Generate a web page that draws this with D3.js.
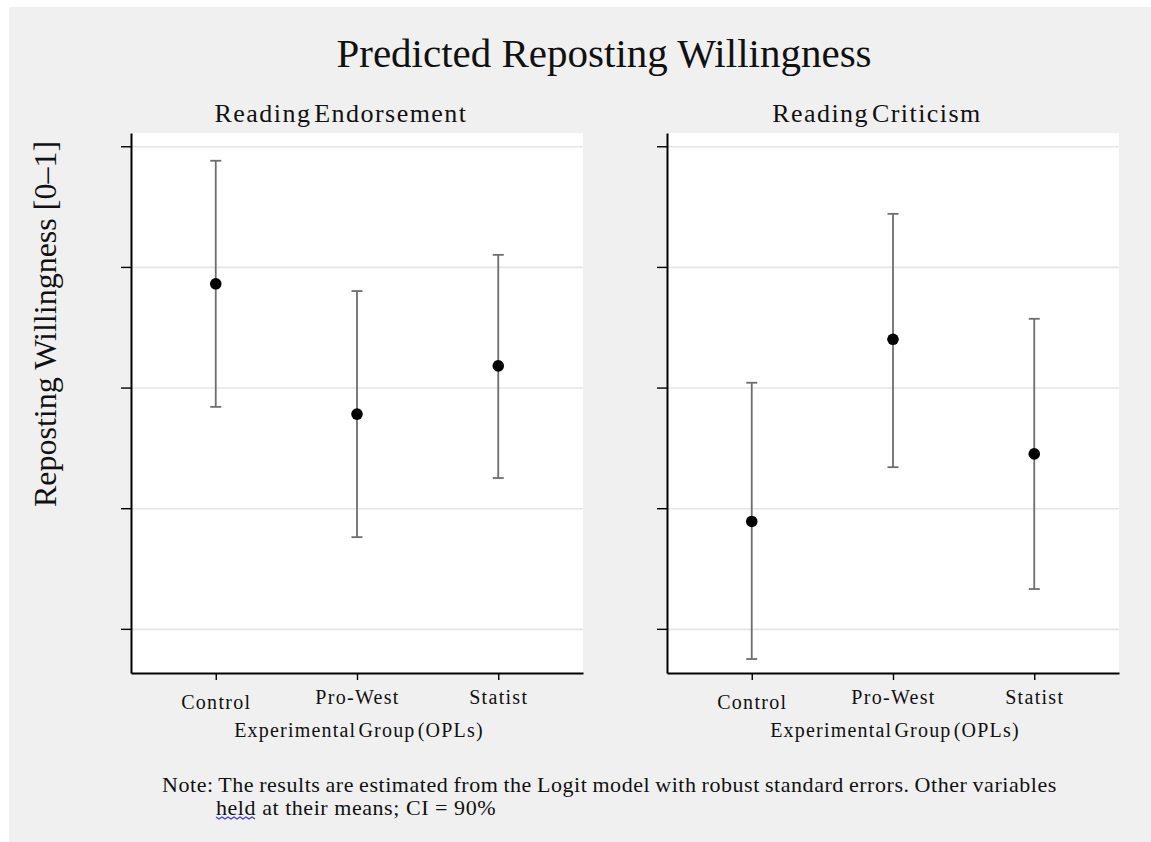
<!DOCTYPE html>
<html>
<head>
<meta charset="utf-8">
<script src="https://cdn.jsdelivr.net/npm/d3@7"></script>
<style>
  html, body { margin: 0; padding: 0; background: #ffffff; }
  svg { display: block; }
  text { font-family: "Liberation Serif", "Times New Roman", serif; fill: #111; }
</style>
</head>
<body>
<div id="chart"></div>
<script>
// Experimental groups shown on each panel's x axis
const groups = ["Control", "Pro-West", "Statist"];
const panelTitles = ["Reading Endorsement", "Reading Criticism"];

// Predicted probabilities with 90% confidence bounds
const endorseEst = [0.386, 0.278, 0.318];
const endorseLo  = [0.284, 0.176, 0.225];
const endorseHi  = [0.488, 0.380, 0.410];

const criticEst  = [0.189, 0.340, 0.245];
const criticLo   = [0.075, 0.234, 0.133];
const criticHi   = [0.304, 0.444, 0.357];

// Unlabelled y-axis ticks
const yTicks = [0.1, 0.2, 0.3, 0.4, 0.5];

const panelData = [
  groups.map((g, i) => ({ group: g, est: endorseEst[i], lo: endorseLo[i], hi: endorseHi[i] })),
  groups.map((g, i) => ({ group: g, est: criticEst[i], lo: criticLo[i], hi: criticHi[i] }))
];

const W = 1151, H = 842;
const svg = d3.select("#chart").append("svg").attr("width", W).attr("height", H);

// Grey graph region
svg.append("rect").attr("x", 9).attr("y", 7).attr("width", W - 9).attr("height", H - 7).attr("fill", "#f0f0f0");

// Overall title
svg.append("text")
  .attr("x", 604).attr("y", 67)
  .attr("text-anchor", "middle")
  .style("font-size", "41px")
  .text("Predicted Reposting Willingness");

// Shared y-axis title
svg.append("text")
  .attr("transform", "translate(56,324) rotate(-90)")
  .attr("text-anchor", "middle")
  .style("font-size", "32px")
  .text("Reposting Willingness [0\u20131]");

const plotTop = 133, plotBottom = 673, plotW = 452;
const panelLeft = [131, 667];

const y = d3.scaleLinear().domain([0.0634, 0.511]).range([plotBottom, plotTop]);

panelData.forEach((rows, p) => {
  const left = panelLeft[p];
  const x = d3.scalePoint().domain(groups).range([left, left + plotW]).padding(0.6);
  const g = svg.append("g");

  // White plot area
  g.append("rect")
    .attr("x", left).attr("y", plotTop)
    .attr("width", plotW).attr("height", plotBottom - plotTop)
    .attr("fill", "#ffffff");

  // Horizontal grid lines
  g.append("g")
    .attr("transform", `translate(${left},0)`)
    .call(d3.axisLeft(y).tickValues(yTicks).tickSize(-plotW).tickFormat(""))
    .call(a => a.select(".domain").remove())
    .call(a => a.selectAll("line").attr("stroke", "#e6e6e6").attr("stroke-width", 1.6));

  // Y axis: ticks without labels
  g.append("g")
    .attr("transform", `translate(${left},0)`)
    .call(d3.axisLeft(y).tickValues(yTicks).tickSize(10).tickSizeOuter(0).tickFormat(""))
    .call(a => a.select(".domain").attr("stroke", "#000").attr("stroke-width", 2))
    .call(a => a.selectAll(".tick line").attr("stroke", "#000").attr("stroke-width", 1.4));

  // X axis
  g.append("g")
    .attr("transform", `translate(0,${plotBottom})`)
    .call(d3.axisBottom(x).tickSize(7).tickSizeOuter(0).tickPadding(8))
    .call(a => a.select(".domain").attr("stroke", "#000").attr("stroke-width", 2))
    .call(a => a.selectAll(".tick line").attr("stroke", "#000").attr("stroke-width", 1.4))
    .call(a => a.selectAll(".tick text")
      .style("font-size", "20px")
      .style("letter-spacing", "1.3px")
      .attr("fill", "#111")
      .attr("dy", d => d === "Control" ? "1.05em" : "0.82em"));

  // Panel title
  g.append("text")
    .attr("x", left + plotW / 2 - 16).attr("y", 122)
    .attr("text-anchor", "middle")
    .style("font-size", "26px")
    .style("letter-spacing", "1.45px")
    .style("word-spacing", "-5px")
    .text(panelTitles[p]);

  // X axis title
  g.append("text")
    .attr("x", left + plotW / 2 + 2).attr("y", 737)
    .attr("text-anchor", "middle")
    .style("font-size", "20px")
    .style("letter-spacing", "1.2px")
    .style("word-spacing", "-4px")
    .text("Experimental Group (OPLs)");

  // Confidence intervals
  const capW = 11;
  const bars = g.append("g").attr("stroke", "#6e6e6e").attr("stroke-width", 1.8);
  bars.selectAll(".ci").data(rows).join("line")
    .attr("x1", d => x(d.group)).attr("x2", d => x(d.group))
    .attr("y1", d => y(d.lo)).attr("y2", d => y(d.hi));
  bars.selectAll(".capHi").data(rows).join("line")
    .attr("x1", d => x(d.group) - capW / 2).attr("x2", d => x(d.group) + capW / 2)
    .attr("y1", d => y(d.hi)).attr("y2", d => y(d.hi));
  bars.selectAll(".capLo").data(rows).join("line")
    .attr("x1", d => x(d.group) - capW / 2).attr("x2", d => x(d.group) + capW / 2)
    .attr("y1", d => y(d.lo)).attr("y2", d => y(d.lo));

  // Point estimates
  g.selectAll("circle").data(rows).join("circle")
    .attr("cx", d => x(d.group)).attr("cy", d => y(d.est))
    .attr("r", 5.8).attr("fill", "#000");
});

// Footnote
const note = svg.append("g").style("font-size", "22px").style("letter-spacing", "0.55px");
note.append("text").attr("x", 162).attr("y", 792)
  .style("word-spacing", "-1px")
  .text("Note: The results are estimated  from the Logit model with robust standard errors. Other variables");
const line2 = note.append("text").attr("x", 216).attr("y", 815)
  .text("held at their means; CI = 90%");

// Wavy spell-check underline beneath the first word of the second line
const heldWidth = line2.node().getSubStringLength(0, 4);
const wave = d3.range(0, Math.floor(heldWidth / 3) + 1).map(i => [216 + i * 3, 817 + (i % 2 ? 2 : 0)]);
svg.append("path")
  .attr("d", d3.line()(wave))
  .attr("fill", "none").attr("stroke", "#3b3bf0").attr("stroke-width", 1.2);
</script>
</body>
</html>
